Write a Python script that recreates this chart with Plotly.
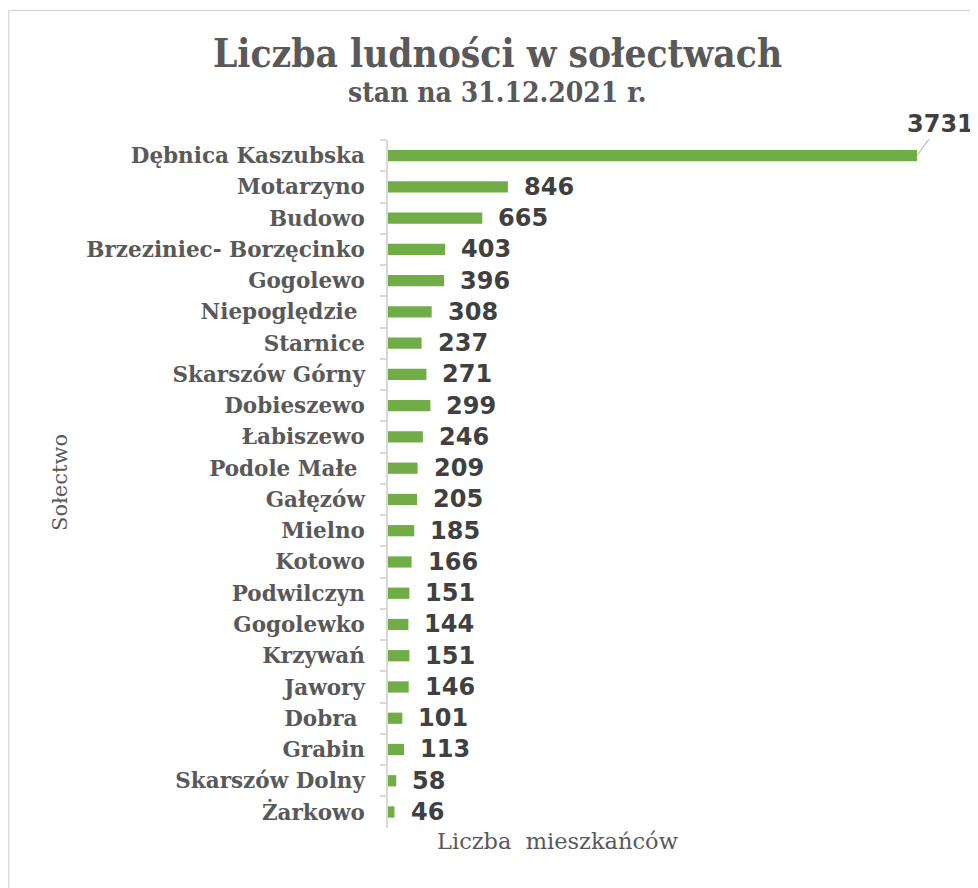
import plotly.graph_objects as go

villages = ["Dębnica Kaszubska", "Motarzyno", "Budowo", "Brzeziniec- Borzęcinko", "Gogolewo",
            "Niepoględzie ", "Starnice", "Skarszów Górny", "Dobieszewo", "Łabiszewo",
            "Podole Małe ", "Gałęzów", "Mielno", "Kotowo", "Podwilczyn", "Gogolewko",
            "Krzywań", "Jawory", "Dobra ", "Grabin", "Skarszów Dolny", "Żarkowo"]
residents = [3731, 846, 665, 403, 396, 308, 237, 271, 299, 246, 209, 205, 185, 166,
             151, 144, 151, 146, 101, 113, 58, 46]

title_text = "Liczba ludności w sołectwach"
subtitle_text = "stan na 31.12.2021 r."
y_title = "Sołectwo"
x_title = "Liczba  mieszkańców"

OFF = 8  # page body margin
W, H = 970, 880
ML, MR, MT, MB = 388 - OFF, 20, 140 - OFF, 60
PW = W - ML - MR
PH = H - MT - MB

def px_x(px):
    return (px - OFF - ML) / PW

def px_y(py):
    return (H - MB - (py - OFF)) / PH

fig = go.Figure(go.Bar(
    x=residents, y=villages, orientation="h",
    marker=dict(color="#70AD47", line=dict(width=0)),
    hoverinfo="x+y",
))

annotations = []
for i, (v, r) in enumerate(zip(villages, residents)):
    if i == 0:
        annotations.append(dict(
            x=r, y=v, xref="x", yref="y", text=str(r), showarrow=True,
            arrowhead=0, arrowwidth=1, arrowcolor="#a6a6a6", ax=23, ay=-32,
            font=dict(family="DejaVu Sans", size=24, color="#404040", weight="bold"),
        ))
    else:
        annotations.append(dict(
            x=r, y=v, xref="x", yref="y", text=str(r), showarrow=False,
            xanchor="left", yanchor="middle", xshift=14,
            font=dict(family="DejaVu Sans", size=24, color="#404040", weight="bold"),
        ))

annotations += [
    dict(text=f"<b>{title_text}</b>", xref="paper", yref="paper",
         x=px_x(497), y=px_y(53), xanchor="center", yanchor="middle", showarrow=False,
         font=dict(family="DejaVu Serif Condensed", size=38.5, color="#595959")),
    dict(text=f"<b>{subtitle_text}</b>", xref="paper", yref="paper",
         x=px_x(497), y=px_y(92), xanchor="center", yanchor="middle", showarrow=False,
         font=dict(family="DejaVu Serif Condensed", size=28, color="#595959")),
    dict(text=y_title, xref="paper", yref="paper", textangle=-90,
         x=px_x(60), y=px_y(483), xanchor="center", yanchor="middle", showarrow=False,
         font=dict(family="DejaVu Serif", size=21, color="#595959")),
    dict(text=x_title, xref="paper", yref="paper",
         x=px_x(557), y=px_y(841), xanchor="center", yanchor="middle", showarrow=False,
         font=dict(family="DejaVu Serif", size=22.5, color="#595959")),
]

fig.update_layout(
    width=W, height=H,
    margin=dict(l=ML, r=MR, t=MT, b=MB, pad=0),
    paper_bgcolor="white", plot_bgcolor="white",
    showlegend=False,
    bargap=0.64,
    annotations=annotations,
    shapes=[
        dict(type="line", xref="paper", yref="paper", x0=px_x(8.5), x1=px_x(1000),
             y0=px_y(10.5), y1=px_y(10.5), line=dict(color="#d9d9d9", width=1.5)),
        dict(type="line", xref="paper", yref="paper", x0=px_x(8.5), x1=px_x(8.5),
             y0=px_y(10.5), y1=px_y(1000), line=dict(color="#d9d9d9", width=1.5)),
    ],
    xaxis=dict(range=[0, 3731 * PW / 529], showgrid=False, zeroline=False,
               showticklabels=False, ticks="", showline=False, fixedrange=True),
    yaxis=dict(autorange="reversed", showgrid=False, zeroline=False,
               showline=True, linecolor="#d9d9d9", linewidth=1.5,
               ticks="outside", tickson="boundaries", ticklen=6, tickcolor="#d9d9d9",
               tickwidth=1.5, ticklabelstandoff=17,
               tickfont=dict(family="DejaVu Serif", size=21.5, color="#595959", weight="bold")),
)

fig.write_html("out.html")
